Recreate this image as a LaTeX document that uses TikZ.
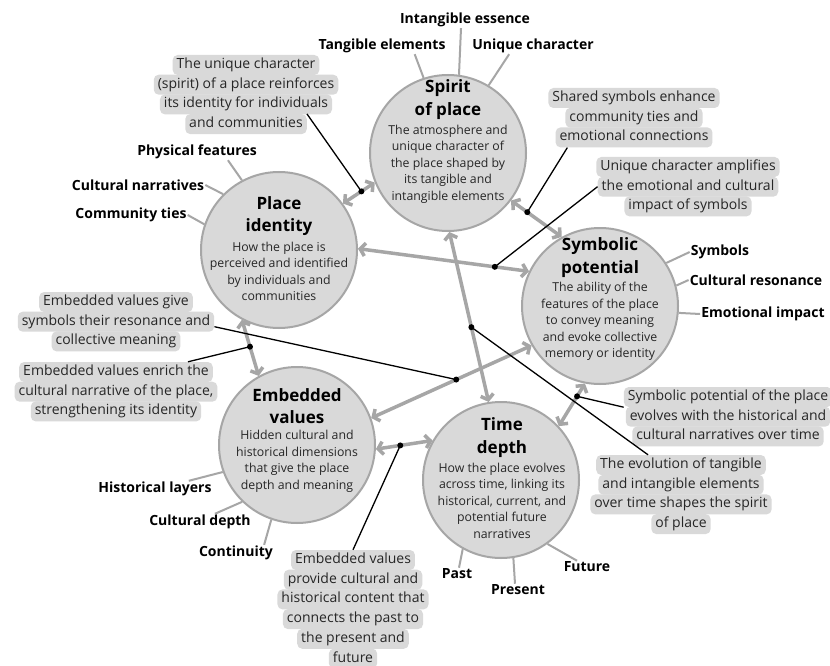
\documentclass[tikz,border=0pt]{standalone}
\usepackage{fontspec}
\setmainfont{Open Sans}
\usetikzlibrary{arrows.meta,calc}
\definecolor{cfill}{RGB}{217,217,217}
\definecolor{cline}{RGB}{166,166,166}
\tikzset{
 circ/.style={circle, draw=cline, line width=2pt, fill=cfill, minimum size=156pt, inner sep=0pt},
 ttl/.style={align=center, font=\bfseries\fontsize{17}{22.5}\selectfont, inner sep=0pt},
 bdy/.style={align=center, font=\fontsize{12.3}{16.5}\selectfont, inner sep=0pt, text=black!85},
 lbl/.style={font=\bfseries\fontsize{14}{16}\selectfont, inner sep=1pt},
 cl/.style={fill=cfill, rounded corners=5pt, inner xsep=4pt, inner ysep=0pt, text height=10.5pt, text depth=3.5pt, minimum height=20pt, font=\fontsize{14}{16}\selectfont, text=black!85},
 arr/.style={draw=cline, line width=3.5pt, {Straight Barb[length=5pt,width=13pt]}-{Straight Barb[length=5pt,width=13pt]}},
 con/.style={draw=black, line width=1.3pt},
 spoke/.style={draw=cline, line width=2pt},
 dot/.style={circle, fill=black, inner sep=0pt, minimum size=6pt},
}
\newcommand\mkcallout[4]{\foreach \t [count=\i] in {#4}{\node[cl] (#1-\i) at (#2,{#3+(\i-1)*19.7}) {\t};}}
\begin{document}
\begin{tikzpicture}[x=1pt,y=-1pt]
\fill[white] (0,0) rectangle (830,666);
\useasboundingbox (0,0) rectangle (830,666);

% circles
\node[circ] (sp) at (448,153) {};
\node[circ] (pi) at (279,250) {};
\node[circ] (sy) at (600,306) {};
\node[circ] (ev) at (297,445) {};
\node[circ] (td) at (501,480) {};

\node[ttl] (spt) at (448,99.5) {Spirit\\of place};
\node[bdy] (spb) at (448,164) {The atmosphere and\\unique character of\\the place shaped by\\its tangible and\\intangible elements};
\node[ttl] (pit) at (279,216) {Place\\identity};
\node[bdy] (pib) at (279,271.5) {How the place is\\perceived and identified\\by individuals and\\communities};
\node[ttl] (syt) at (600,257.5) {Symbolic\\potential};
\node[bdy] (syb) at (600,321.5) {The ability of the\\features of the place\\to convey meaning\\and evoke collective\\memory or identity};
\node[ttl] (evt) at (297,406) {Embedded\\values};
\node[bdy] (evb) at (297,461.5) {Hidden cultural and\\historical dimensions\\that give the place\\depth and meaning};
\node[ttl] (tdt) at (502,437.5) {Time\\depth};
\node[bdy] (tdb) at (502,500.5) {How the place evolves\\across time, linking its\\historical, current, and\\potential future\\narratives};

% spoke labels
\node[lbl] (ie) at (465,20) {Intangible essence};
\node[lbl] (te) at (382,46) {Tangible elements};
\node[lbl] (uc) at (533,46) {Unique character};
\node[lbl] (pf) at (197,152) {Physical features};
\node[lbl] (cn) at (138,185) {Cultural narratives};
\node[lbl] (ct) at (131,215) {Community ties};
\node[lbl] (sy1) at (720,252) {Symbols};
\node[lbl] (cr) at (756,280) {Cultural resonance};
\node[lbl] (ei) at (763,314) {Emotional impact};
\node[lbl] (hl) at (155,489) {Historical layers};
\node[lbl] (cd) at (200,522) {Cultural depth};
\node[lbl] (co) at (236,553) {Continuity};
\node[lbl] (past) at (457,574) {Past};
\node[lbl] (pres) at (518,590) {Present};
\node[lbl] (fut) at (587,567) {Future};

\draw[spoke] ([xshift=-4pt]ie.south) -- (sp.82.6);
\draw[spoke] ([xshift=-32pt]te.south east) -- (sp.108.4);
\draw[spoke] ([xshift=38pt]uc.south west) -- (sp.59.4);
\draw[spoke] ([xshift=-30pt]pf.south east) -- (pi.118.4);
\draw[spoke] (cn.east) -- (pi.135);
\draw[spoke] (ct.east) -- (pi.161.6);
\draw[spoke] (sy1.west) -- (sy.33.5);
\draw[spoke] (cr.west) -- (sy.15.4);
\draw[spoke] (ei.west) -- (sy.-5.9);
\draw[spoke] ([xshift=-24pt]hl.north east) -- (ev.200);
\draw[spoke] ([xshift=-37pt]cd.north east) -- (ev.226.6);
\draw[spoke] ([xshift=-10pt]co.north east) -- (ev.251.1);
\draw[spoke] ([xshift=2pt]past.north) -- (td.241.8);
\draw[spoke] ([xshift=-3pt]pres.north) -- (td.279.5);
\draw[spoke] ([xshift=-10pt]fut.north) -- (td.306.3);

% callouts
\mkcallout{c1}{246}{65}{The unique character,(spirit) of a place reinforces,its identity for individuals,and communities}
\mkcallout{c2}{634}{98}{Shared symbols enhance,community ties and,emotional connections}
\mkcallout{c3}{688}{167}{Unique character amplifies,the emotional and cultural,impact of symbols}
\mkcallout{c4}{116}{302}{Embedded values give,symbols their resonance and,collective meaning}
\mkcallout{c5}{116}{372}{Embedded values enrich the,{cultural narrative of the place,},strengthening its identity}
\mkcallout{c6}{728}{397}{Symbolic potential of the place,evolves with the historical and,cultural narratives over time}
\mkcallout{c7}{681}{465}{The evolution of tangible,and intangible elements,over time shapes the spirit,of place}
\mkcallout{c8}{353}{560}{Embedded values,provide cultural and,historical content that,connects the past to,the present and,future}

% arrows
\draw[arr] (pi.36.7) -- coordinate[pos=0.58] (d1) (sp.202.3);
\draw[arr] (sp.323.7) -- coordinate[pos=0.32] (d2) (sy.119.2);
\draw[arr] (pi.1.5) -- coordinate[pos=0.80] (d3) (sy.154.1);
\draw[arr] (pi.242.5) -- coordinate[pos=0.48] (d4) (ev.119.1);
\draw[arr] (ev.20.9) -- coordinate[pos=0.53] (d5) (sy.210.4);
\draw[arr] (sp.271.4) -- coordinate[pos=0.56] (d6) (td.99.2);
\draw[arr] (ev.357.9) -- coordinate[pos=0.43] (d7) (td.150.3);
\draw[arr] (sy.259.9) -- coordinate[pos=0.3] (d8) (td.43.5);

% connectors
\draw[con] (c1-4.north east) -- (d1);
\draw[con] ([xshift=12pt]c2-3.south west) -- (d2);
\draw[con] (c3-2.west) -- (d3);
\draw[con] ([yshift=-5pt]c4-2.east) -- (d5);
\draw[con] ([xshift=-25pt]c5-1.north east) -- (d4);
\draw[con] (c6-1.south west) -- (d8);
\draw[con] ([xshift=52pt]c7-1.north west) -- (d6);
\draw[con] (c8-1.north) -- (d7);

\foreach \d in {d1,d2,d3,d4,d5,d6,d7,d8}{\node[dot] (x\d) at (\d) {};}
\end{tikzpicture}
\end{document}
